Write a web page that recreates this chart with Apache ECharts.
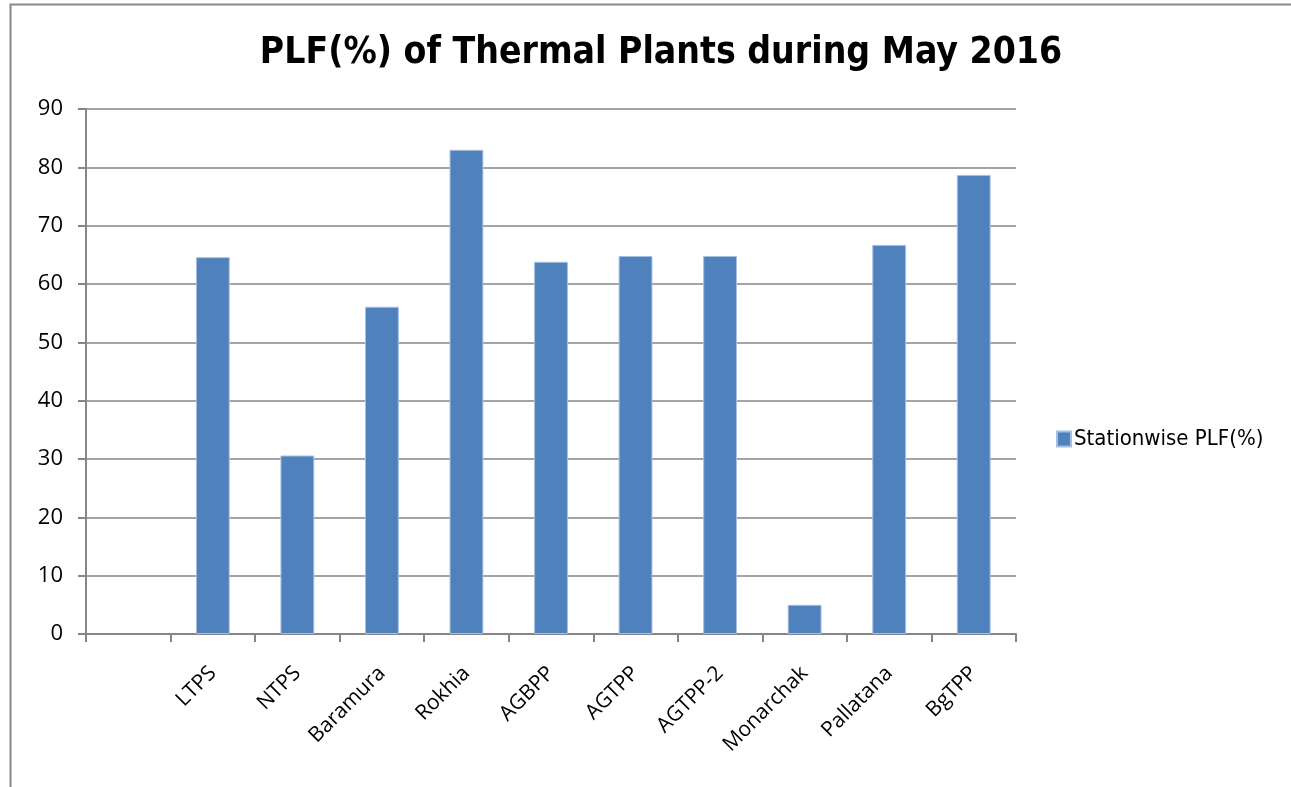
<!DOCTYPE html>
<html>
<head>
<meta charset="utf-8">
<script src="https://cdn.jsdelivr.net/npm/echarts@6/dist/echarts.min.js"></script>
<style>html,body{margin:0;padding:0;background:#fff;}#c{width:1291px;height:787px;}</style>
</head>
<body>
<div id="c"></div>
<script>
const categories = ['', 'LTPS', 'NTPS', 'Baramura', 'Rokhia', 'AGBPP', 'AGTPP', 'AGTPP-2', 'Monarchak', 'Pallatana', 'BgTPP'];
const plfValues = [null, 64.6, 30.6, 56.1, 83.0, 63.8, 64.8, 64.8, 5.0, 66.7, 78.7];
const seriesName = 'Stationwise PLF(%)';
const titleText = 'PLF(%) of Thermal Plants during May 2016';

const chart = echarts.init(document.getElementById('c'));
chart.setOption({
  animation: false,
  backgroundColor: '#fff',
  graphic: [{
    type: 'rect', shape: {x: 10.5, y: 4.5, width: 1400, height: 900},
    style: {fill: 'none', stroke: '#888', lineWidth: 2}, silent: true
  }],
  title: {
    text: titleText, left: 656, top: 30, textAlign: 'center',
    textStyle: {fontFamily: 'DejaVu Sans Condensed', fontWeight: 'bold', fontSize: 37, color: '#000'}
  },
  legend: {
    data: [seriesName], left: 1051, top: 423, orient: 'vertical',
    itemWidth: 14, itemHeight: 15, itemGap: 6,
    textStyle: {fontFamily: 'DejaVu Sans Condensed', fontSize: 22, color: '#000', padding: [0,0,0,-2]},
    icon: 'rect'
  },
  grid: {left: 86, top: 109, width: 930, height: 525, containLabel: false},
  xAxis: {
    type: 'category', data: categories,
    axisLine: {lineStyle: {color: '#868686', width: 2}},
    axisTick: {show: true, length: 8, alignWithLabel: false, lineStyle: {color: '#868686', width: 2}},
    axisLabel: {interval: 0, rotate: 45, margin: 36, fontFamily: 'Open Sans', fontSize: 21, color: '#000'}
  },
  yAxis: {
    type: 'value', min: 0, max: 90, interval: 10,
    axisLine: {show: true, lineStyle: {color: '#868686', width: 2}},
    axisTick: {show: true, length: 8, lineStyle: {color: '#868686', width: 2}},
    axisLabel: {margin: 23, fontFamily: 'Open Sans', fontSize: 22, color: '#000'},
    splitLine: {lineStyle: {color: '#868686', width: 1.5}}
  },
  series: [{
    name: seriesName, type: 'bar', data: plfValues, barWidth: '40%',
    itemStyle: {color: '#4F81BD', borderColor: '#A6BFE0', borderWidth: 1}
  }]
});
</script>
</body>
</html>
